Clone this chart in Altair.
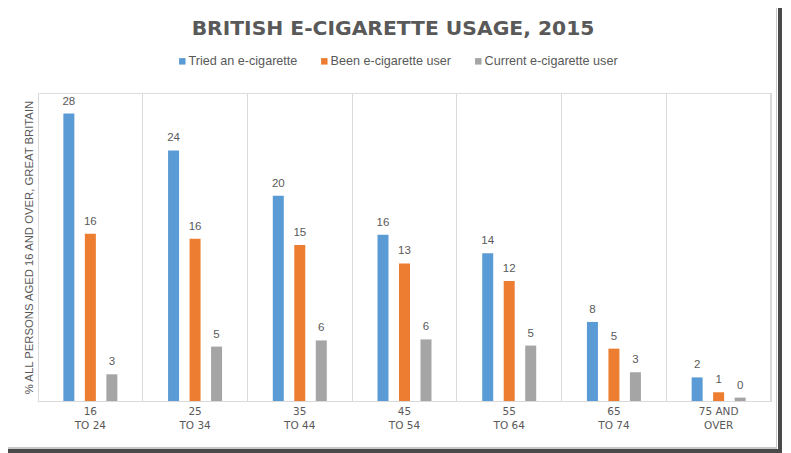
import altair as alt
import pandas as pd

title_text = "BRITISH E-CIGARETTE USAGE, 2015"
y_title = "% ALL PERSONS AGED 16 AND OVER, GREAT BRITAIN"
groups = ["16\nTO 24", "25\nTO 34", "35\nTO 44", "45\nTO 54", "55\nTO 64", "65\nTO 74", "75 AND\nOVER"]
series = ["Tried an e-cigarette", "Been e-cigarette user", "Current e-cigarette user"]
tried = [28.0, 24.4, 20.0, 16.2, 14.4, 7.7, 2.3]
been = [16.3, 15.8, 15.2, 13.4, 11.7, 5.1, 0.85]
current = [2.6, 5.3, 5.9, 6.0, 5.4, 2.8, 0.33]
colors = ["#5B9BD5", "#ED7D31", "#A5A5A5"]

rows = []
for s, vals in zip(series, [tried, been, current]):
    for g, v in zip(groups, vals):
        rows.append({"group": g, "series": s, "value": v})
df = pd.DataFrame(rows)
title_df = pd.DataFrame({"t": [title_text]})

W, H = 733, 308
GRAY = "#595959"
LINE = "#D9D9D9"

base = alt.Chart(df).encode(
    x=alt.X("group:N", sort=groups,
            scale=alt.Scale(paddingInner=0, paddingOuter=0),
            axis=alt.Axis(title=None, labelAngle=0, labelExpr="split(datum.label, '\\n')",
                          labelFont="DejaVu Sans", labelFontSize=10.5, labelColor=GRAY,
                          labelLineHeight=14, labelPadding=5, labelBaseline="top",
                          ticks=False, domainColor=LINE, domainWidth=1,
                          grid=True, gridColor=LINE, gridWidth=1, bandPosition=0)),
    xOffset=alt.XOffset("series:N", sort=series,
                        scale=alt.Scale(paddingInner=0.13, paddingOuter=1)),
    y=alt.Y("value:Q", scale=alt.Scale(domain=[0, 30], nice=False),
            axis=alt.Axis(title=y_title,
                          titleFont="Liberation Sans", titleFontSize=11.3, titleFontWeight="normal",
                          titleColor=GRAY, titlePadding=4, labels=False, ticks=False,
                          grid=False, domainColor=LINE)),
)

bars = base.mark_bar(width=11).encode(
    color=alt.Color("series:N", sort=series,
                    scale=alt.Scale(domain=series, range=colors),
                    legend=alt.Legend(title=None, orient="none", direction="horizontal",
                                      legendX=138, legendY=-38, symbolType="square",
                                      symbolSize=42, symbolStrokeWidth=0,
                                      labelFont="Liberation Sans", labelFontSize=12.6,
                                      labelColor=GRAY, columnPadding=20, labelOffset=0,
                                      padding=0))
)

labels = base.mark_text(baseline="bottom", dy=-7, font="Liberation Sans",
                        fontSize=11.5, color=GRAY).encode(
    text=alt.Text("value:Q", format=".0f")
)

title_mark = alt.Chart(title_df).mark_text(
    font="DejaVu Sans", fontSize=20.3, fontWeight="bold", color=GRAY,
    align="center", baseline="middle"
).encode(x=alt.value(355), y=alt.value(-64), text="t:N")

right_line = alt.Chart(df).mark_rule(color=LINE, strokeWidth=1).encode(
    x=alt.value(W), y=alt.value(0), y2=alt.value(H)
)

frame_r_light = alt.Chart(df).mark_rule(color="#C8C8C8", strokeWidth=1).encode(
    x=alt.value(738.5), y=alt.value(-93), y2=alt.value(356)
)
frame_r_dark = alt.Chart(df).mark_rule(color="#4A4A4A", strokeWidth=4).encode(
    x=alt.value(742), y=alt.value(-91), y2=alt.value(360)
)
frame_b_light = alt.Chart(df).mark_rule(color="#C8C8C8", strokeWidth=1).encode(
    x=alt.value(-38), x2=alt.value(739), y=alt.value(355)
)
frame_b_dark = alt.Chart(df).mark_rule(color="#4A4A4A", strokeWidth=4).encode(
    x=alt.value(-36), x2=alt.value(744), y=alt.value(358.5)
)

chart = alt.layer(bars, labels, title_mark, right_line, frame_r_light, frame_r_dark,
                  frame_b_light, frame_b_dark).properties(
    width=W, height=H,
    autosize=alt.AutoSizeParams(type="none"),
    padding={"left": 30, "top": 85, "right": 12, "bottom": 52},
).configure_view(stroke=None).configure(background="white")

chart.save("out.html", embed_options={"renderer": "svg", "actions": False})
